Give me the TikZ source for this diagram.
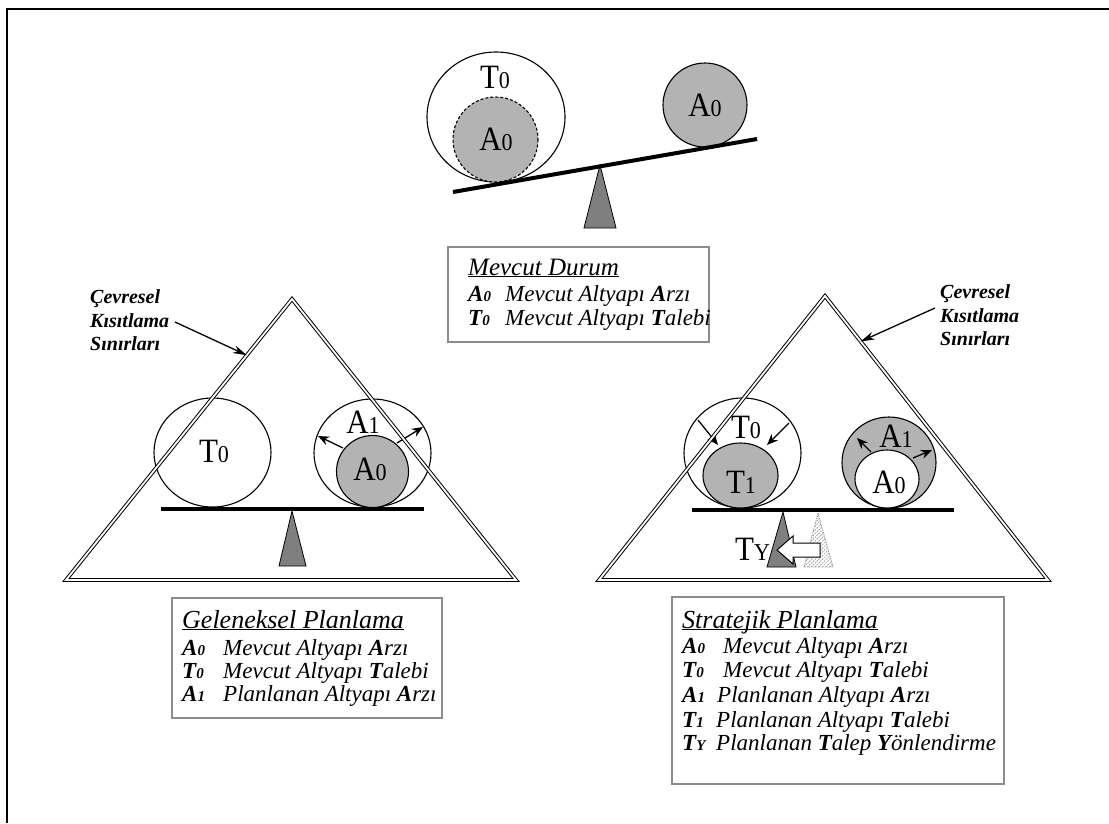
\documentclass[tikz,border=0pt]{standalone}
\usepackage{fontspec}
\setmainfont{Liberation Serif}
\usetikzlibrary{arrows.meta,patterns.meta,calc}

\definecolor{supply}{HTML}{B3B3B3}
\definecolor{pivot}{HTML}{7F7F7F}
\definecolor{boxgray}{HTML}{8C8C8C}

% large symbol with a reduced index, e.g. T0, A1
\newcommand\sym[2]{\scalebox{1}[1.1]{\fontsize{31}{31}\selectfont #1\fontsize{22}{22}\selectfont #2}}
% bold italic key used in the legends
\newcommand\legkey[2]{{\fontsize{23}{23}\selectfont\bfseries\itshape #1{\fontsize{15}{15}\selectfont #2}}}
% heading underlined just below the baseline
\newcommand\headline[1]{\underline{\smash{#1}}}

\tikzset{
  frameline/.style={line width=2.5pt, line join=miter},
  limitline/.style={draw, double=white, double distance=1.8pt, line width=1pt, line join=miter},
  beam/.style={line width=4pt},
  ring/.style={draw, line width=1.1pt},
  supplydisc/.style={fill=supply, draw, line width=1.1pt},
  fulcrum/.style={fill=pivot, draw, line width=0.8pt, line join=miter},
  ghost/.style={draw=gray, densely dotted, line width=0.8pt,
    pattern={Lines[angle=45,distance=2.6pt,line width=0.7pt]}, pattern color=gray!85},
  growarrow/.style={line width=1.3pt, -{Stealth[length=11pt,width=9pt]}},
  callout/.style={line width=1.3pt, -{Stealth[length=14pt,width=8pt]}},
  legendbox/.style={draw=boxgray, line width=1.5pt},
  symlabel/.style={inner sep=0pt, anchor=base},
  notetext/.style={anchor=base west, inner sep=0pt, font=\fontsize{20}{20}\selectfont\bfseries\itshape},
  legtitle/.style={anchor=base west, inner sep=0pt, font=\fontsize{26}{26}\selectfont\itshape},
  legentry/.style={anchor=base west, inner sep=0pt, font=\fontsize{23}{23}\selectfont\itshape},
}

\begin{document}
\begin{tikzpicture}[x=1pt, y=-1pt]
\useasboundingbox (0,0) rectangle (1109,823);

% outer frame
\draw[frameline] (7,823) -- (7,9) -- (1109,9);

% ---------- current state: tilted balance ----------
\draw[fulcrum] (600,165) -- (616,228) -- (584,228) -- cycle;
\draw[ring] (496,117) ellipse [x radius=69, y radius=65];
\draw[supplydisc, dash pattern=on 3pt off 2pt] (495.5,139.5) circle [radius=42.5];
\draw[supplydisc] (705,105) circle [radius=42];
\draw[beam] (453,192) -- (757,139);
\node[symlabel] (mT0) at (495,88) {\sym{T}{0}};
\node[symlabel] (mA0) at (496,150) {\sym{A}{0}};
\node[symlabel] (mA0r) at (705,116) {\sym{A}{0}};

% legend: current state
\draw[legendbox] (448,247) rectangle (709,342);
\node[legtitle, font=\fontsize{25}{25}\selectfont\itshape] (mtitle) at (468,275) {\headline{Mevcut Durum}};
\node[legentry] (m1) at (468,301) {\makebox[37pt][l]{\legkey{A}{0}}Mevcut Altyapı \textbf{A}rzı};
\node[legentry] (m2) at (468,325) {\makebox[37pt][l]{\legkey{T}{0}}Mevcut Altyapı \textbf{T}alebi};

% ---------- traditional planning ----------
\draw[ring] (212.5,452.5) ellipse [x radius=58.5, y radius=54.5];
\draw[ring] (372.5,453) ellipse [x radius=58.5, y radius=54];
\draw[supplydisc] (372.5,471.5) circle [radius=36];
\draw[growarrow] (343,448) -- (318,436);
\draw[growarrow] (397,443) -- (423,427);
\draw[beam] (161,509) -- (424,509);
\draw[fulcrum] (292,511) -- (306,566) -- (279,566) -- cycle;
\node[symlabel] (gT0) at (214,462) {\sym{T}{0}};
\node[symlabel] (gA1) at (363,433) {\sym{A}{1}};
\node[symlabel] (gA0) at (370,480) {\sym{A}{0}};

\coordinate (gApex) at (292,299);
\coordinate (gLeft) at (66,580);
\coordinate (gRight) at (516,580);
\draw[limitline] (gApex) -- (gRight) -- (gLeft) -- cycle;

\node[notetext] (gn1) at (90,303) {Çevresel};
\node[notetext] (gn2) at (90,327) {Kısıtlama};
\node[notetext] (gn3) at (90,350) {Sınırları};
\coordinate (gFrom) at (175,322);
\coordinate (gTip) at ($(gApex)!0.2!(gLeft)$);
\draw[callout] (gFrom) -- (gTip);

% legend: traditional planning
\draw[legendbox] (172,598) rectangle (442,718);
\node[legtitle] (gtitle) at (182,628) {\headline{Geleneksel Planlama}};
\node[legentry] (g1) at (182,655) {\makebox[41pt][l]{\legkey{A}{0}}Mevcut Altyapı \textbf{A}rzı};
\node[legentry] (g2) at (182,678) {\makebox[41pt][l]{\legkey{T}{0}}Mevcut Altyapı \textbf{T}alebi};
\node[legentry] (g3) at (182,701) {\makebox[41pt][l]{\legkey{A}{1}}Planlanan Altyapı \textbf{A}rzı};

% ---------- strategic planning ----------
\draw[ring] (742.5,453) ellipse [x radius=58.5, y radius=55];
\draw[supplydisc] (740.5,475.5) ellipse [x radius=37.5, y radius=32.5];
\draw[growarrow] (698,420) -- (718,445);
\draw[growarrow] (789,423) -- (767,445);
\draw[supplydisc] (889,462.5) ellipse [x radius=47, y radius=45.5];
\draw[ring, fill=white] (887,479) ellipse [x radius=32, y radius=29];
\draw[growarrow] (871,452) -- (857,438);
\draw[growarrow] (913,458) -- (932,450);
\draw[beam] (692,510) -- (954,510);
\draw[fulcrum] (783,512) -- (796,567) -- (767,567) -- cycle;
\draw[ghost] (818,513) -- (833,567) -- (804,567) -- cycle;
\draw[fill=white, line width=1pt, line join=miter]
  (777,550) -- (793,536) -- (793,543) -- (820,543) -- (820,557) -- (793,557) -- (793,564) -- cycle;
\node[symlabel] (sT0) at (746,438) {\sym{T}{0}};
\node[symlabel] (sT1) at (741,493) {\sym{T}{1}};
\node[symlabel] (sA1) at (896,447) {\sym{A}{1}};
\node[symlabel] (sA0) at (889,493) {\sym{A}{0}};
\node[symlabel, anchor=base west] (sTY) at (735,560) {\sym{T}{Y}};

\coordinate (sApex) at (825,296);
\coordinate (sLeft) at (599,580);
\coordinate (sRight) at (1048,580);
\draw[limitline] (sApex) -- (sRight) -- (sLeft) -- cycle;

\node[notetext] (sn1) at (940,298) {Çevresel};
\node[notetext] (sn2) at (940,322) {Kısıtlama};
\node[notetext] (sn3) at (940,345) {Sınırları};
\coordinate (sFrom) at (935,308);
\coordinate (sTip) at ($(sApex)!0.16!(sRight)$);
\draw[callout] (sFrom) -- (sTip);

% legend: strategic planning
\draw[legendbox] (672,597) rectangle (1004,784);
\node[legtitle] (stitle) at (682,628) {\headline{Stratejik Planlama}};
\node[legentry] (s1) at (682,653) {\makebox[41pt][l]{\legkey{A}{0}}Mevcut Altyapı \textbf{A}rzı};
\node[legentry] (s2) at (682,677) {\makebox[41pt][l]{\legkey{T}{0}}Mevcut Altyapı \textbf{T}alebi};
\node[legentry] (s3) at (682,702) {\makebox[35pt][l]{\legkey{A}{1}}Planlanan Altyapı \textbf{A}rzı};
\node[legentry] (s4) at (682,727) {\makebox[34pt][l]{\legkey{T}{1}}Planlanan Altyapı \textbf{T}alebi};
\node[legentry] (s5) at (682,750) {\makebox[34pt][l]{\legkey{T}{Y}}Planlanan \textbf{T}alep \textbf{Y}önlendirme};
\end{tikzpicture}
\end{document}
